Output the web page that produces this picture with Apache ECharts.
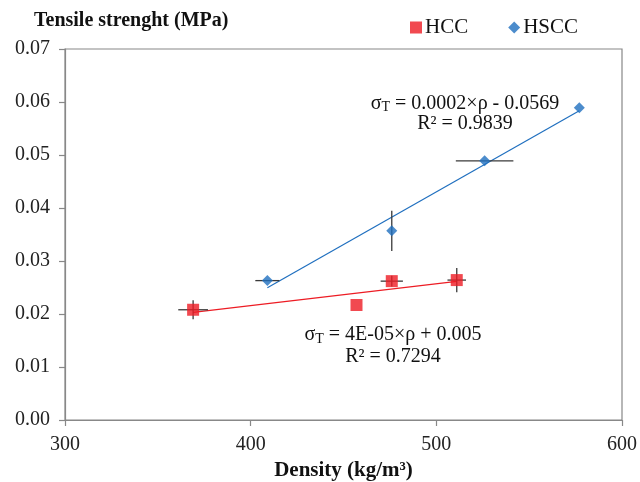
<!DOCTYPE html>
<html>
<head>
<meta charset="utf-8">
<script src="https://cdn.jsdelivr.net/npm/echarts@6/dist/echarts.min.js"></script>
<style>html,body{margin:0;padding:0;background:#fff}#c{width:640px;height:482px}</style>
</head>
<body>
<div id="c"></div>
<script>
// ---- data ----
const xTicks = [300, 400, 500, 600];
const yTicks = [0, 0.01, 0.02, 0.03, 0.04, 0.05, 0.06, 0.07];

const hccDensity = [369, 457, 476, 511];
const hccStrength = [0.0208, 0.0217, 0.0262, 0.0264];
const hccDensityErr = [8, 0, 6, 5];
const hccStrengthErr = [0.0018, 0, 0.001, 0.0023];

const hsccDensity = [409, 476, 526, 577];
const hsccStrength = [0.0263, 0.0357, 0.0489, 0.0589];
const hsccDensityErr = [6.5, 0, 15.5, 0];
const hsccStrengthErr = [0, 0.0038, 0, 0];

const hccEquation = ['σ{sub|T} = 4E-05×ρ + 0.005', 'R² = 0.7294'];
const hsccEquation = ['σ{sub|T} = 0.0002×ρ - 0.0569', 'R² = 0.9839'];

// ---- helpers ----
function fit(xs, ys) {
  const n = xs.length;
  const mx = xs.reduce((a, b) => a + b, 0) / n;
  const my = ys.reduce((a, b) => a + b, 0) / n;
  let sxy = 0, sxx = 0;
  for (let i = 0; i < n; i++) { sxy += (xs[i] - mx) * (ys[i] - my); sxx += (xs[i] - mx) ** 2; }
  const m = sxy / sxx, b = my - m * mx;
  const x0 = Math.min(...xs), x1 = Math.max(...xs);
  return [[x0, m * x0 + b], [x1, m * x1 + b]];
}
function pts(xs, ys) { return xs.map((x, i) => [x, ys[i]]); }
function errData(xs, ys, ex, ey) { return xs.map((x, i) => [x, ys[i], ex[i], ey[i]]); }

function errRender(params, api) {
  const x = api.value(0), y = api.value(1), ex = api.value(2), ey = api.value(3);
  const children = [];
  const st = { stroke: '#3a3a3a', lineWidth: 1.3 };
  if (ex > 0) {
    const a = api.coord([x - ex, y]), b = api.coord([x + ex, y]);
    children.push({ type: 'line', shape: { x1: a[0], y1: a[1], x2: b[0], y2: b[1] }, style: st });
  }
  if (ey > 0) {
    const a = api.coord([x, y - ey]), b = api.coord([x, y + ey]);
    children.push({ type: 'line', shape: { x1: a[0], y1: a[1], x2: b[0], y2: b[1] }, style: st });
  }
  return { type: 'group', children };
}

const FONT = '"Liberation Serif", "Times New Roman", serif';
const RED = '#ED1C24';
const BLUE = '#1F6FBF';

const chart = echarts.init(document.getElementById('c'), null, { renderer: 'canvas' });

const eqRich = {
  sub: { fontSize: 14, verticalAlign: 'bottom', padding: [8, 0, 0, 0], fontFamily: FONT, fill: '#111' }
};

chart.setOption({
  animation: false,
  backgroundColor: '#fff',
  textStyle: { fontFamily: FONT },
  title: {
    text: 'Tensile strenght (MPa)',
    left: 29, top: 6,
    textStyle: { fontFamily: FONT, fontWeight: 'bold', fontSize: 20, color: '#111' }
  },
  legend: {
    top: 12, left: 405,
    itemGap: 40,
    itemWidth: 12, itemHeight: 12,
    textStyle: { fontFamily: FONT, fontSize: 21, color: '#111', padding: [0, 0, 0, -2] },
    data: [
      { name: 'HCC', icon: 'rect', itemStyle: { color: RED } },
      { name: 'HSCC', icon: 'diamond', itemStyle: { color: BLUE } }
    ]
  },
  grid: {
    left: 65, right: 18, top: 49, bottom: 62,
    outerBoundsMode: 'none', containLabel: false,
    show: true, borderColor: '#888', borderWidth: 1.2
  },
  xAxis: {
    type: 'value', min: xTicks[0], max: xTicks[xTicks.length - 1], interval: 100,
    name: 'Density (kg/m³)', nameLocation: 'middle', nameGap: 34,
    nameTextStyle: { fontFamily: FONT, fontWeight: 'bold', fontSize: 21, color: '#111' },
    axisLine: { lineStyle: { color: '#888', width: 1.2 } },
    axisTick: { show: true, length: 6, lineStyle: { color: '#888', width: 1.2 } },
    axisLabel: { fontFamily: FONT, fontSize: 20, color: '#222', margin: 15 },
    splitLine: { show: false }
  },
  yAxis: {
    type: 'value', min: yTicks[0], max: yTicks[yTicks.length - 1], interval: 0.01,
    axisLine: { show: true, lineStyle: { color: '#888', width: 1.2 } },
    axisTick: { show: true, length: 6, lineStyle: { color: '#888', width: 1.2 } },
    axisLabel: { fontFamily: FONT, fontSize: 20, color: '#222', margin: 15, formatter: v => v.toFixed(2) },
    splitLine: { show: false }
  },
  series: [
    {
      name: 'HCC fit', type: 'line', data: fit(hccDensity, hccStrength),
      symbol: 'none', lineStyle: { color: RED, width: 1.2 }, z: 2, silent: true
    },
    {
      name: 'HSCC fit', type: 'line', data: fit(hsccDensity, hsccStrength),
      symbol: 'none', lineStyle: { color: BLUE, width: 1.2 }, z: 2, silent: true
    },
    {
      name: 'HCC err', type: 'custom', renderItem: errRender,
      data: errData(hccDensity, hccStrength, hccDensityErr, hccStrengthErr), z: 3
    },
    {
      name: 'HSCC err', type: 'custom', renderItem: errRender,
      data: errData(hsccDensity, hsccStrength, hsccDensityErr, hsccStrengthErr), z: 3
    },
    {
      name: 'HCC', type: 'scatter', data: pts(hccDensity, hccStrength),
      symbol: 'rect', symbolSize: 12, itemStyle: { color: RED }, z: 5
    },
    {
      name: 'HSCC', type: 'scatter', data: pts(hsccDensity, hsccStrength),
      symbol: 'diamond', symbolSize: [11, 11], itemStyle: { color: BLUE }, z: 5
    }
  ],
  graphic: [
    {
      id: 'eq1', type: 'text', x: 465, y: 94, z: 10,
      style: { text: hsccEquation.join('\n'), fontFamily: FONT, fontSize: 20, fill: '#111', align: 'center', verticalAlign: 'top', lineHeight: 20, rich: eqRich }
    },
    {
      id: 'eq2', type: 'text', x: 393, y: 324, z: 10,
      style: { text: hccEquation.join('\n'), fontFamily: FONT, fontSize: 20, fill: '#111', align: 'center', verticalAlign: 'top', lineHeight: 22, rich: eqRich }
    }
  ]
});
</script>
</body>
</html>
